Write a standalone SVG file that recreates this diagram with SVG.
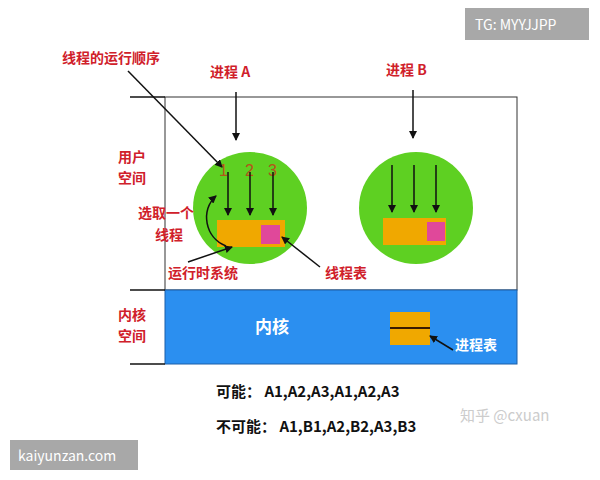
<svg xmlns="http://www.w3.org/2000/svg" width="600" height="480" viewBox="0 0 600 480">
<style>
text{font-family:"Noto Sans CJK SC","Liberation Sans",sans-serif}
.r{fill:#d0202a;font-size:14px;font-weight:bold}
.b{fill:#111;font-size:15px;font-weight:bold}
.n{fill:#b5541a;font-size:16px;font-family:"Liberation Sans",sans-serif}
.a{stroke:#111;stroke-width:1.5;fill:none;marker-end:url(#m)}
</style>
<defs><marker id="m" markerWidth="8" markerHeight="8" refX="7" refY="4" orient="auto" markerUnits="userSpaceOnUse"><path d="M0,0L8,4L0,8z" fill="#111"/></marker></defs>
<rect width="600" height="480" fill="#fff"/>
<g id="user"><rect x="165" y="97" width="352" height="193" fill="#fff" stroke="#333"/>
<text class="r" x="118" y="162">用户</text><text class="r" x="118" y="183">空间</text></g>
<g id="kernel"><rect x="165" y="290" width="352" height="74" fill="#2b8ff0" stroke="#1c5fa8"/>
<text x="255" y="333" fill="#fff" font-size="17" font-weight="bold">内核</text>
<text class="r" x="118" y="320">内核</text><text class="r" x="118" y="341">空间</text>
<rect x="390" y="312" width="40" height="33" fill="#f0a800"/><line x1="390" y1="328" x2="430" y2="328" stroke="#3a1a00" stroke-width="2"/>
<text x="455" y="350" fill="#fff" font-size="14" font-weight="bold">进程表</text></g>
<g id="procA"><ellipse cx="250" cy="208" rx="57" ry="56" fill="#5ed022"/>
<rect x="217" y="220" width="68" height="27" fill="#f0a800"/><rect x="261" y="225" width="19" height="19" fill="#e0489a"/>
<text class="r" x="210" y="77">进程 A</text>
<text class="n" x="219" y="176">1</text>
<text class="n" x="245" y="176">2</text>
<text class="n" x="268" y="176">3</text></g>
<g id="procB"><ellipse cx="416" cy="208" rx="57" ry="56" fill="#5ed022"/>
<rect x="383" y="218" width="63" height="27" fill="#f0a800"/><rect x="427" y="222" width="18" height="19" fill="#e0489a"/>
<text class="r" x="386" y="75">进程 B</text></g>
<g id="labels">
<text class="r" x="62" y="63">线程的运行顺序</text>
<text class="r" x="138" y="218">选取一个</text><text class="r" x="155" y="240">线程</text>
<text class="r" x="168" y="278">运行时系统</text>
<text class="r" x="325" y="278">线程表</text>
<text class="b" x="216" y="397">可能： A1,A2,A3,A1,A2,A3</text>
<text class="b" x="216" y="432">不可能： A1,B1,A2,B2,A3,B3</text>
<text x="460" y="421" fill="#ccc" font-size="15">知乎 @cxuan</text>
<rect x="465" y="8" width="124" height="32" fill="#999" opacity="0.85"/><text x="475" y="30" fill="#fff" font-size="14" font-family="Liberation Sans,sans-serif">TG: MYYJJPP</text>
<rect x="10" y="440" width="128" height="30" fill="#999" opacity="0.85"/><text x="18" y="461" fill="#fff" font-size="14" font-family="Liberation Sans,sans-serif">kaiyunzan.com</text>
</g>
<g id="connectors">
<line x1="130" y1="97" x2="165" y2="97" stroke="#111" stroke-width="1.5"/>
<line x1="130" y1="290" x2="165" y2="290" stroke="#111" stroke-width="1.5"/>
<line x1="130" y1="364" x2="165" y2="364" stroke="#111" stroke-width="1.5"/>
<line class="a" x1="236" y1="92" x2="236" y2="140"/>
<line class="a" x1="228" y1="172" x2="228" y2="215"/>
<line class="a" x1="250" y1="172" x2="250" y2="215"/>
<line class="a" x1="273" y1="172" x2="273" y2="215"/>
<line class="a" x1="413" y1="90" x2="413" y2="138"/>
<line class="a" x1="392" y1="165" x2="392" y2="212"/>
<line class="a" x1="414" y1="165" x2="414" y2="212"/>
<line class="a" x1="436" y1="165" x2="436" y2="212"/>
<line class="a" x1="128" y1="71" x2="222" y2="167"/>
<path class="a" d="M226,246 C205,238 200,210 216,196"/>
<line class="a" x1="188" y1="262" x2="232" y2="247"/>
<line class="a" x1="320" y1="267" x2="282" y2="237"/>
<line class="a" x1="453" y1="350" x2="430" y2="336"/>
</g>
</svg>
